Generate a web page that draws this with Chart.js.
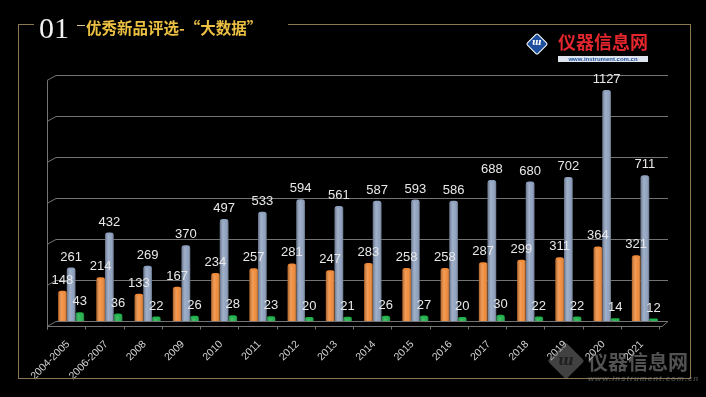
<!DOCTYPE html>
<html>
<head>
<meta charset="utf-8">
<script src="https://cdn.jsdelivr.net/npm/chart.js@4.4.1/dist/chart.umd.min.js"></script>
<style>
  html, body { margin: 0; padding: 0; background: #000; }
  #wrap { position: relative; width: 706px; height: 397px; overflow: hidden; background: #000; font-family: "Noto Sans CJK SC", sans-serif; }
  #chart { position: absolute; left: 0; top: 0; }
  .ln { position: absolute; background: #8a7852; }
  #num { position: absolute; left: 39px; top: 13px; font: 30px/30px "Liberation Serif", serif; color: #f2f2f2; }
  #title { position: absolute; left: 86px; top: 19px; font: bold 15.5px/16px "Noto Sans CJK SC", sans-serif; color: #ecc043; white-space: nowrap; }
  .icon { position: absolute; transform: rotate(45deg); border-radius: 2px; }
  .iconTxt { position: absolute; transform: rotate(-45deg); font-style: italic; font-weight: bold; color: #fff; font-family: "DejaVu Serif", serif; }
  #logoTxt { position: absolute; left: 558px; top: 32px; font: bold 18px/19px "Noto Sans CJK SC", sans-serif; color: #e3262e; white-space: nowrap; }
  #logoUrl { position: absolute; left: 558px; top: 56px; width: 90px; height: 6px; background: #dfe5ef; color: #1d4f9c; font: bold 6px/6px "Liberation Sans", sans-serif; text-align: center; overflow: hidden; }
  #wmTxt { position: absolute; left: 588px; top: 351px; font: bold 20px/21px "Noto Sans CJK SC", sans-serif; color: rgba(150,150,150,0.55); white-space: nowrap; }
  #wmUrl { position: absolute; left: 588px; top: 375px; width: 100px; font: italic bold 8px/8px "Liberation Sans", sans-serif; color: rgba(140,140,140,0.5); letter-spacing: 0.9px; white-space: nowrap; }
</style>
</head>
<body>
<div id="wrap">
  <canvas id="chart" width="706" height="397"></canvas>

  <div class="ln" style="left:18px;top:24px;width:1px;height:355px"></div>
  <div class="ln" style="left:690px;top:24px;width:1px;height:355px"></div>
  <div class="ln" style="left:18px;top:378px;width:673px;height:1px"></div>
  <div class="ln" style="left:18px;top:24px;width:16px;height:1px"></div>
  <div class="ln" style="left:288px;top:24px;width:403px;height:1px"></div>
  <div class="ln" style="left:77px;top:25px;width:8px;height:1px;background:#d8c890"></div>

  <div id="num">01</div>
  <div id="title">优秀新品评选-“大数据”</div>

  <div class="icon" style="left:529px;top:36px;width:14px;height:14px;background:#1d4f9c;border:1px solid #fff">
    <div class="iconTxt" style="left:1px;top:0px;font-size:9px;line-height:12px">ɯ</div>
  </div>
  <div id="logoTxt">仪器信息网</div>
  <div id="logoUrl">www.instrument.com.cn</div>

  <div class="icon" style="left:553px;top:348px;width:26px;height:26px;background:rgba(130,130,130,0.5)">
    <div class="iconTxt" style="left:4px;top:2px;font-size:15px;line-height:20px;color:rgba(0,0,0,0.5)">ɯ</div>
  </div>
  <div id="wmTxt">仪器信息网</div>
  <div id="wmUrl">www.instrument.com.cn</div>
</div>

<script>
const categories = ['2004-2005', '2006-2007', '2008', '2009', '2010', '2011', '2012', '2013',
  '2014', '2015', '2016', '2017', '2018', '2019', '2020', '2021'];
const seriesOrange = [148, 214, 133, 167, 234, 257, 281, 247, 283, 258, 258, 287, 299, 311, 364, 321];
const seriesBlue = [261, 432, 269, 370, 497, 533, 594, 561, 587, 593, 586, 688, 680, 702, 1127, 711];
const seriesGreen = [43, 36, 22, 26, 28, 23, 20, 21, 26, 27, 20, 30, 22, 22, 14, 12];
const gridValues = [0, 200, 400, 600, 800, 1000, 1200];

const lineColor = '#747474';

// back walls / floor lines with a small fake 3D depth
const gridPlugin = {
  id: 'grid3d',
  beforeDatasetsDraw(chart) {
    const { ctx, chartArea: a, scales: { y } } = chart;
    const dx = 9, dy = 5;
    ctx.save();
    ctx.strokeStyle = lineColor;
    ctx.lineWidth = 1;
    gridValues.forEach(v => {
      const py = Math.round(y.getPixelForValue(v)) + 0.5;
      ctx.beginPath();
      ctx.moveTo(a.left - 5, py + dy);
      ctx.lineTo(a.left - 5 + dx, py);
      ctx.lineTo(a.right + 4, py);
      ctx.stroke();
    });
    // left axis
    const top = Math.round(y.getPixelForValue(1200)) + 0.5;
    const bot = Math.round(y.getPixelForValue(0)) + 0.5;
    ctx.beginPath();
    ctx.moveTo(a.left - 4.5, top + dy);
    ctx.lineTo(a.left - 4.5, bot + dy + 3);
    ctx.stroke();
    // front floor edge + ticks
    ctx.beginPath();
    ctx.moveTo(a.left - 5, bot + dy);
    ctx.lineTo(a.right - 2, bot + dy);
    ctx.lineTo(a.right + 4, bot);
    ctx.stroke();
    const step = (a.right - a.left) / categories.length;
    for (let i = 0; i <= categories.length; i++) {
      const px = Math.round(a.left - 5 + i * step) + 0.5;
      ctx.beginPath();
      ctx.moveTo(px, bot + dy);
      ctx.lineTo(px, bot + dy + 3);
      ctx.stroke();
    }
    ctx.restore();
  }
};

// cylinder shading and value labels
const barPlugin = {
  id: 'barDeco',
  afterDatasetsDraw(chart) {
    const ctx = chart.ctx;
    ctx.save();
    chart.data.datasets.forEach((ds, i) => {
      chart.getDatasetMeta(i).data.forEach(bar => {
        const l = bar.x - bar.width / 2, w = bar.width;
        const t = bar.y + 2, h = bar.base - bar.y - 2;
        if (h <= 0) return;
        const g = ctx.createLinearGradient(l, 0, l + w, 0);
        g.addColorStop(0, 'rgba(0,0,0,0.30)');
        g.addColorStop(0.4, 'rgba(255,255,255,0.16)');
        g.addColorStop(0.65, 'rgba(255,255,255,0.04)');
        g.addColorStop(1, 'rgba(0,0,0,0.30)');
        ctx.fillStyle = g;
        ctx.fillRect(l, t, w, h);
      });
    });
    ctx.font = '13px "Liberation Sans Narrow", "Liberation Sans", sans-serif';
    ctx.fillStyle = '#e8e8e8';
    ctx.textAlign = 'center';
    ctx.textBaseline = 'bottom';
    chart.data.datasets.forEach((ds, i) => {
      chart.getDatasetMeta(i).data.forEach((bar, j) => {
        ctx.fillText(String(ds.data[j]), bar.x, bar.y - 4);
      });
    });
    ctx.restore();
  }
};

new Chart(document.getElementById('chart'), {
  type: 'bar',
  data: {
    labels: categories,
    datasets: [
      { label: '系列1', data: seriesOrange, backgroundColor: '#f08937' },
      { label: '系列2', data: seriesBlue, backgroundColor: '#8ea1bf' },
      { label: '系列3', data: seriesGreen, backgroundColor: '#1fb24b' }
    ]
  },
  options: {
    responsive: false,
    animation: false,
    layout: { padding: { left: 52, right: 42, top: 75, bottom: 0 } },
    datasets: {
      bar: { categoryPercentage: 0.68, barPercentage: 1.0, borderRadius: { topLeft: 3, topRight: 3 }, borderSkipped: 'bottom' }
    },
    plugins: { legend: { display: false }, tooltip: { enabled: false } },
    scales: {
      x: {
        grid: { display: false, drawTicks: false },
        border: { display: false },
        ticks: {
          color: '#d2d2d2',
          font: { family: '"Liberation Sans Narrow", "Liberation Sans", sans-serif', size: 10.5 },
          minRotation: 45, maxRotation: 45, autoSkip: false, padding: 17, labelOffset: -3
        },
        afterFit(scale) { scale.height = 76; }
      },
      y: { display: false, min: 0, max: 1200 }
    }
  },
  plugins: [gridPlugin, barPlugin]
});
</script>
</body>
</html>
